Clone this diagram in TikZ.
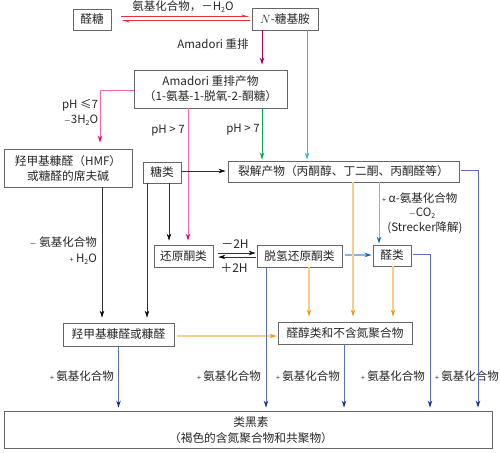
\documentclass[tikz,border=0pt]{standalone}
\usepackage{fontspec}
\setmainfont{Noto Sans CJK SC}
\usetikzlibrary{arrows.meta,calc}
\definecolor{cred}{HTML}{E8303A}
\definecolor{cpurp}{HTML}{A3005A}
\definecolor{ccyan}{HTML}{35B4E6}
\definecolor{cgreen}{HTML}{0FA04A}
\definecolor{cpink}{HTML}{F06AAE}
\definecolor{cpinkh}{HTML}{E6007E}
\definecolor{corange}{HTML}{F8CC8E}
\definecolor{corangeh}{HTML}{F39800}
\definecolor{clblue}{HTML}{82B6E6}
\definecolor{clblueh}{HTML}{0068B7}
\definecolor{cnavy}{HTML}{5A6FBE}
\definecolor{cnavyh}{HTML}{1D2C88}
\newcommand{\sub}[1]{\raisebox{-0.35ex}{\scriptsize #1}}
\tikzset{
  box/.style={draw=black!60, line width=0.9pt, rectangle, inner sep=0pt, align=center, font=\fontsize{11.7}{15}\selectfont, text=black!85},
  lbl/.style={inner sep=0pt, font=\fontsize{11.5}{13}\selectfont, text=black!85, align=center},
  tip/.style={-{Stealth[length=7pt,width=4.5pt,#1]}},
  blk/.style={draw=black!80, line width=0.7pt, tip=black},
  redarr/.style={draw=cred, line width=0.8pt, -{Stealth[length=7pt,width=4pt,harpoon]}},
  purp/.style={draw=cpurp, line width=0.8pt, tip=cpurp},
  cyanl/.style={draw=ccyan, line width=0.9pt, tip=ccyan},
  greenl/.style={draw=cgreen, line width=0.9pt, tip=cgreen},
  pinkl/.style={draw=cpink, line width=1pt, tip=cpinkh},
  orl/.style={draw=corange, line width=1.1pt, tip=corangeh},
  lbl2/.style={draw=clblue, line width=1.1pt, tip=clblueh},
  navy/.style={draw=cnavy, line width=0.8pt, tip=cnavyh},
}
\begin{document}
\begin{tikzpicture}[x=1pt,y=-1pt]
\useasboundingbox (0,0) rectangle (500,452);
% nodes
\node[box, minimum width=38pt, minimum height=21pt] (aldose) at (92,19.5) {醛糖};
\node[box, minimum width=66pt, minimum height=22pt] (glyc) at (285,19) {$N$-糖基胺};
\node[box, minimum width=153pt, minimum height=38pt] (amad) at (210.5,89) {Amadori 重排产物\\（1-氨基-1-脱氧-2-酮糖）};
\node[box, minimum width=128pt, minimum height=38pt] (hmf) at (68,168) {羟甲基糠醛（HMF）\\或糖醛的席夫碱};
\node[box, minimum width=38pt, minimum height=21pt] (sugar) at (162,172.5) {糖类};
\node[box, minimum width=231pt, minimum height=21pt] (frag) at (343.5,171.5) {裂解产物（丙酮醇、丁二酮、丙酮醛等）};
\node[box, minimum width=59pt, minimum height=22pt] (redn) at (183.5,256) {还原酮类};
\node[box, minimum width=85pt, minimum height=22pt] (dhr) at (299.5,256) {脱氢还原酮类};
\node[box, minimum width=38pt, minimum height=21pt] (ald) at (392,255.5) {醛类};
\node[box, minimum width=111pt, minimum height=23pt] (furf) at (118.5,334.5) {羟甲基糠醛或糠醛};
\node[box, minimum width=134pt, minimum height=22pt] (aldol) at (345,333) {醛醇类和不含氮聚合物};
\node[box, minimum width=488pt, minimum height=37pt] (mel) at (248,429.5) {};
\node[lbl, font=\fontsize{11.7}{16}\selectfont] (meltxt) at (251,430) {类黑素\\（褐色的含氮聚合物和共聚物）};

% labels
\node[lbl] (l1) at (183,7) {氨基化合物，－H\sub{2}O};
\node[lbl] (l2) at (213,44) {Amadori 重排};
\node[lbl] (l3) at (80,105) {pH ≤7};
\node[lbl] (l4) at (81,120) {{\scriptsize －}3H\sub{2}O};
\node[lbl] (l5) at (168,131) {pH > 7};
\node[lbl] (l6) at (243,130) {pH > 7};
\node[lbl, anchor=west] (l7) at (382,198) {{\scriptsize +} α-氨基化合物};
\node[lbl] (l8) at (422,213) {{\scriptsize －}CO\sub{2}};
\node[lbl] (l9) at (425,228) {(Strecker降解)};
\node[lbl, font=\fontsize{12}{13}\selectfont] (l10) at (235,244) {－2H};
\node[lbl, font=\fontsize{12}{13}\selectfont] (l11) at (234,268) {＋2H};
\node[lbl, anchor=east] (l12) at (97,242) {{\scriptsize －} 氨基化合物};
\node[lbl, anchor=east] (l13) at (97,259) {{\scriptsize +} H\sub{2}O};
\foreach \i/\xx in {a/82,b/229,c/308,d/393,e/467}{
  \node[lbl] (lp\i) at (\xx,376) {{\scriptsize +} 氨基化合物};
}

% connectors
\draw[redarr] ([xshift=10pt,yshift=3pt]aldose.east) -- ([xshift=-2pt,yshift=3pt]aldose.east -| glyc.west);
\draw[redarr] ([xshift=-2pt,yshift=-1pt]aldose.east -| glyc.west) -- ([xshift=10pt,yshift=-1pt]aldose.east);
\draw[purp, shorten >=5pt] ([xshift=-23pt]glyc.south) -- ([xshift=-23pt]glyc.south |- amad.north);
\draw[cyanl, shorten >=1pt] ([xshift=22pt]glyc.south) -- ([xshift=22pt]glyc.south |- frag.north);
\draw[greenl, shorten >=1pt] ([xshift=51.5pt]amad.south) -- ([xshift=51.5pt]amad.south |- frag.north);
\draw[pinkl, shorten >=6pt] ([yshift=-1pt]amad.west) -| ([xshift=32pt]hmf.north);
\draw[pinkl, shorten >=4pt] ([xshift=-22.5pt]amad.south) -- ([xshift=-22.5pt]amad.south |- redn.north);
\draw[blk, shorten >=2pt] ([yshift=1.5pt]sugar.east) -- ([yshift=1.5pt]sugar.east -| frag.west);
\draw[blk, shorten >=4pt] ([xshift=7pt]sugar.south) -- ([xshift=7pt]sugar.south |- redn.north);
\draw[blk, shorten >=5pt] ([xshift=-15pt]sugar.south) -- ([xshift=-15pt]sugar.south |- furf.north);
\draw[blk, shorten >=5pt] ([xshift=34pt]hmf.south) -- ([xshift=34pt]hmf.south |- furf.north);
\draw[blk] ([xshift=5pt,yshift=3pt]redn.east) -- ([xshift=-1pt,yshift=3pt]redn.east -| dhr.west);
\draw[blk] ([xshift=-1pt,yshift=-1pt]redn.east -| dhr.west) -- ([xshift=5pt,yshift=-1pt]redn.east);
\draw[lbl2, shorten <=3pt, shorten >=1pt] ([yshift=1pt]dhr.east) -- ([yshift=1pt]dhr.east -| ald.west);
\draw[draw=clblue, line width=1pt, tip=clblueh, shorten >=1pt] ([xshift=35.5pt]frag.south) -- ([xshift=35.5pt]frag.south |- ald.north);
\draw[orl, shorten >=5pt] ([xshift=9.5pt]frag.south) -- ([xshift=9.5pt]frag.south |- aldol.north);
\draw[orl, shorten >=5pt] ([xshift=9.5pt]dhr.south) -- ([xshift=9.5pt]dhr.south |- aldol.north);
\draw[orl, shorten >=5pt] ([xshift=1pt]ald.south) -- ([xshift=1pt]ald.south |- aldol.north);
\draw[orl, shorten <=3pt, shorten >=1pt] ([yshift=-1.5pt]furf.east) -- ([yshift=-1.5pt]furf.east -| aldol.west);
\draw[navy, shorten >=3pt] (furf.south) -- (furf.south |- mel.north);
\draw[navy, shorten >=3pt] ([xshift=-33.5pt]dhr.south) -- ([xshift=-33.5pt]dhr.south |- mel.north);
\draw[navy, shorten >=3pt] ([xshift=-1pt]aldol.south) -- ([xshift=-1pt]aldol.south |- mel.north);
\draw[navy, shorten <=2pt, shorten >=3pt] ([yshift=1.5pt]ald.east) -| ([xshift=182pt]mel.north);
\draw[navy, shorten <=2pt, shorten >=3pt] ([yshift=1.5pt]frag.east) -| ([xshift=230pt]mel.north);
\end{tikzpicture}
\end{document}
